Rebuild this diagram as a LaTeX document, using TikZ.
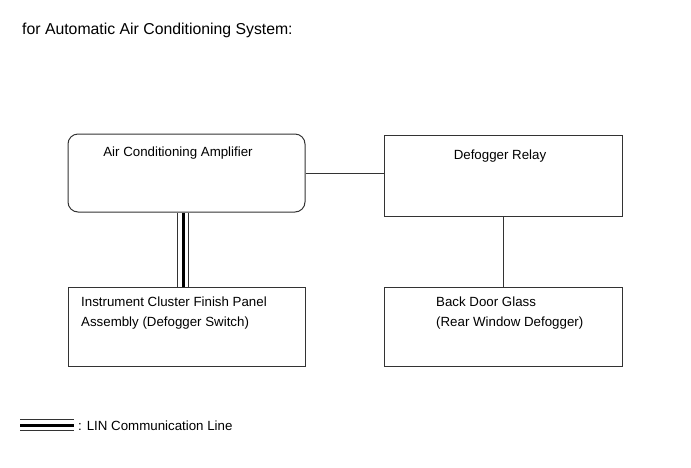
\documentclass[tikz,border=0pt]{standalone}
\usepackage{fontspec}
\setmainfont{Liberation Sans}
\usetikzlibrary{positioning,backgrounds}
\definecolor{boxline}{HTML}{333333}

\begin{document}
\begin{tikzpicture}[x=1pt, y=-1pt,
    unit/.style={draw=boxline, line width=1pt, minimum width=237pt,
                 minimum height=79pt, inner sep=0pt},
    boxtext/.style={font=\fontsize{13.3}{20}\selectfont, inner sep=0pt, align=left},
    wire/.style={draw=boxline, line width=1pt},
    lin/.style={line width=3pt, preaction={draw, line width=11.5pt, boxline},
                preaction={draw, line width=9.5pt, white}}]
  \useasboundingbox (0,0) rectangle (691,467);

  \node[boxtext, anchor=west, font=\fontsize{15.8}{19}\selectfont] (title) at (22,30)
    {for Automatic Air Conditioning System:};

  % units
  \node[unit, rounded corners=10pt, minimum height=78pt] (amp) at (186.5,173) {};
  \node[unit, minimum width=238pt, minimum height=81pt] (relay) at (503,175.5) {};
  \node[unit] (switch) at (186.5,326.5) {};
  \node[unit, minimum width=238pt] (glass) at (503,326.5) {};

  \node[boxtext] (amptext) at (178,153) {Air Conditioning Amplifier};
  \node[boxtext] (relaytext) at (500,156) {Defogger Relay};
  \node[boxtext, anchor=west] (switchtext) at (81,313)
    {Instrument Cluster Finish Panel\\Assembly (Defogger Switch)};
  \node[boxtext, anchor=west] (glasstext) at (436,313)
    {Back Door Glass\\(Rear Window Defogger)};

  % connections
  \begin{scope}[on background layer]
    \draw[wire] (amp.east) -- (amp.east -| relay.west);
    \draw[wire] (relay.south) -- (glass.north);
    \draw[lin] ([xshift=-3.5pt]amp.south) -- ([xshift=-3.5pt]switch.north);
  \end{scope}

  % legend
  \coordinate (lega) at (20,425);
  \coordinate (legb) at (74,425);
  \draw[lin] (lega) -- (legb);
  \node[boxtext, anchor=west] (legtext) at (78,426) {: LIN Communication Line};
\end{tikzpicture}
\end{document}
